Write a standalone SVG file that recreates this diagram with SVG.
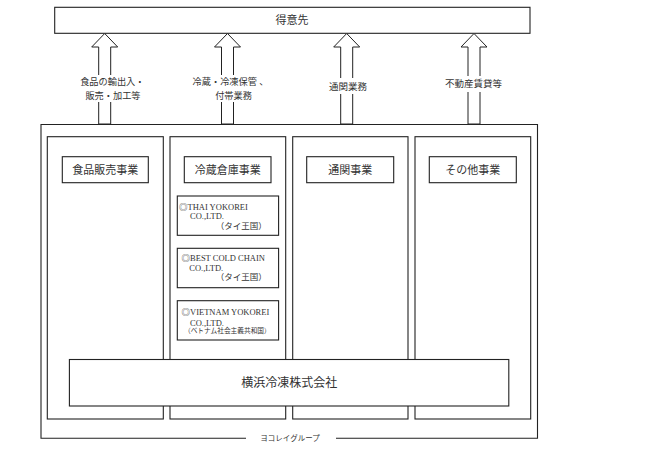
<svg xmlns="http://www.w3.org/2000/svg" width="648" height="458" viewBox="0 0 648 458">
<style>
.box{fill:#fff;stroke:#222;stroke-width:1.1}
.ln{fill:none;stroke:#222;stroke-width:1.1}
.arr{fill:#fff;stroke:#222;stroke-width:1}
.t{font-family:"Liberation Serif","Noto Sans CJK JP",serif;fill:#333}
.j{font-family:"Noto Sans CJK JP",sans-serif}
.c{text-anchor:middle}
.bg{fill:#fff;stroke:none}
</style>
<rect width="648" height="458" fill="#fff"/>

<g id="customer">
<rect class="box" x="54.7" y="7.3" width="475.3" height="26"/>
<text class="t c" x="292" y="24" font-size="11">得意先</text>
</g>

<g id="connectors">
<polygon class="arr" points="104.7,33.5 117.7,47 110.7,47 110.7,124 98.7,124 98.7,47 91.7,47"/>
<rect class="bg" x="80" y="75" width="65" height="27"/>
<text class="t c" x="112.3" y="85.3" font-size="9.2">食品の輸出入・</text>
<text class="t c" x="113" y="98.8" font-size="9.2">販売・加工等</text>

<polygon class="arr" points="227.5,33.5 240.5,47 233.5,47 233.5,124 221.5,124 221.5,47 214.5,47"/>
<rect class="bg" x="189" y="75" width="83" height="27"/>
<text class="t c" x="230.5" y="85.3" font-size="9.2">冷蔵・冷凍保管 、</text>
<text class="t c" x="233.5" y="98.8" font-size="9.2">付帯業務</text>

<polygon class="arr" points="346.7,33.5 359.7,47 352.7,47 352.7,124 340.7,124 340.7,47 333.7,47"/>
<rect class="bg" x="326" y="78" width="44" height="16"/>
<text class="t c" x="348" y="90" font-size="9.5">通関業務</text>

<polygon class="arr" points="474,33.5 487,47 480,47 480,124 468,124 468,47 461,47"/>
<rect class="bg" x="443" y="76" width="62" height="16"/>
<text class="t c" x="473.6" y="87.3" font-size="9.5">不動産賃貸等</text>
</g>

<g id="yokorei-group">
<path class="ln" d="M246,438.3 H41 V124.5 H537.5 V438.3 H336"/>
<text class="t c" x="290" y="440.8" font-size="7.5">ヨコレイグループ</text>
</g>

<g id="col-food">
<rect class="box" x="47.3" y="136.7" width="116" height="282.3"/>
<rect class="box" x="62.3" y="156.7" width="86" height="26"/>
<text class="t c" x="105.3" y="174" font-size="11">食品販売事業</text>
</g>

<g id="col-cold">
<rect class="box" x="170" y="136.7" width="115.7" height="282.3"/>
<rect class="box" x="184.3" y="156.7" width="86.7" height="26"/>
<text class="t c" x="227.7" y="174" font-size="11">冷蔵倉庫事業</text>
</g>

<g id="thai-yokorei">
<rect class="box" x="177.3" y="196" width="101.3" height="39.3"/>
<text class="t" x="179" y="209.5" font-size="8.5"><tspan class="j">◎</tspan>THAI YOKOREI</text>
<text class="t" x="190" y="219" font-size="8.5">CO.,LTD.</text>
<text class="t" x="266.7" y="229" font-size="8.5" text-anchor="end">（タイ王国）</text>
</g>

<g id="best-cold-chain">
<rect class="box" x="177.3" y="248.3" width="101.3" height="39.4"/>
<text class="t" x="181.5" y="261.3" font-size="8.5"><tspan class="j">◎</tspan>BEST COLD CHAIN</text>
<text class="t" x="189.3" y="270.7" font-size="8.5">CO.,LTD.</text>
<text class="t" x="266.7" y="280.3" font-size="8.5" text-anchor="end">（タイ王国）</text>
</g>

<g id="vietnam-yokorei">
<rect class="box" x="177.3" y="300.7" width="101.3" height="39.3"/>
<text class="t" x="181.5" y="314.7" font-size="8.5"><tspan class="j">◎</tspan>VIETNAM YOKOREI</text>
<text class="t" x="190" y="325.7" font-size="8.5">CO.,LTD.</text>
<text class="t" x="184" y="333.4" font-size="6.7">（ベトナム社会主義共和国）</text>
</g>

<g id="col-customs">
<rect class="box" x="292.7" y="136.7" width="115.3" height="282.3"/>
<rect class="box" x="306.7" y="156.7" width="87" height="26"/>
<text class="t c" x="350.2" y="174" font-size="11">通関事業</text>
</g>

<g id="col-other">
<rect class="box" x="415" y="136.7" width="115.7" height="282.3"/>
<rect class="box" x="429.3" y="156.7" width="87" height="26"/>
<text class="t c" x="472.8" y="174" font-size="11">その他事業</text>
</g>

<g id="yokohama-reito">
<rect class="box" x="69.4" y="359.5" width="439.4" height="46.5"/>
<text class="t c" x="289.3" y="387" font-size="12">横浜冷凍株式会社</text>
</g>
</svg>
